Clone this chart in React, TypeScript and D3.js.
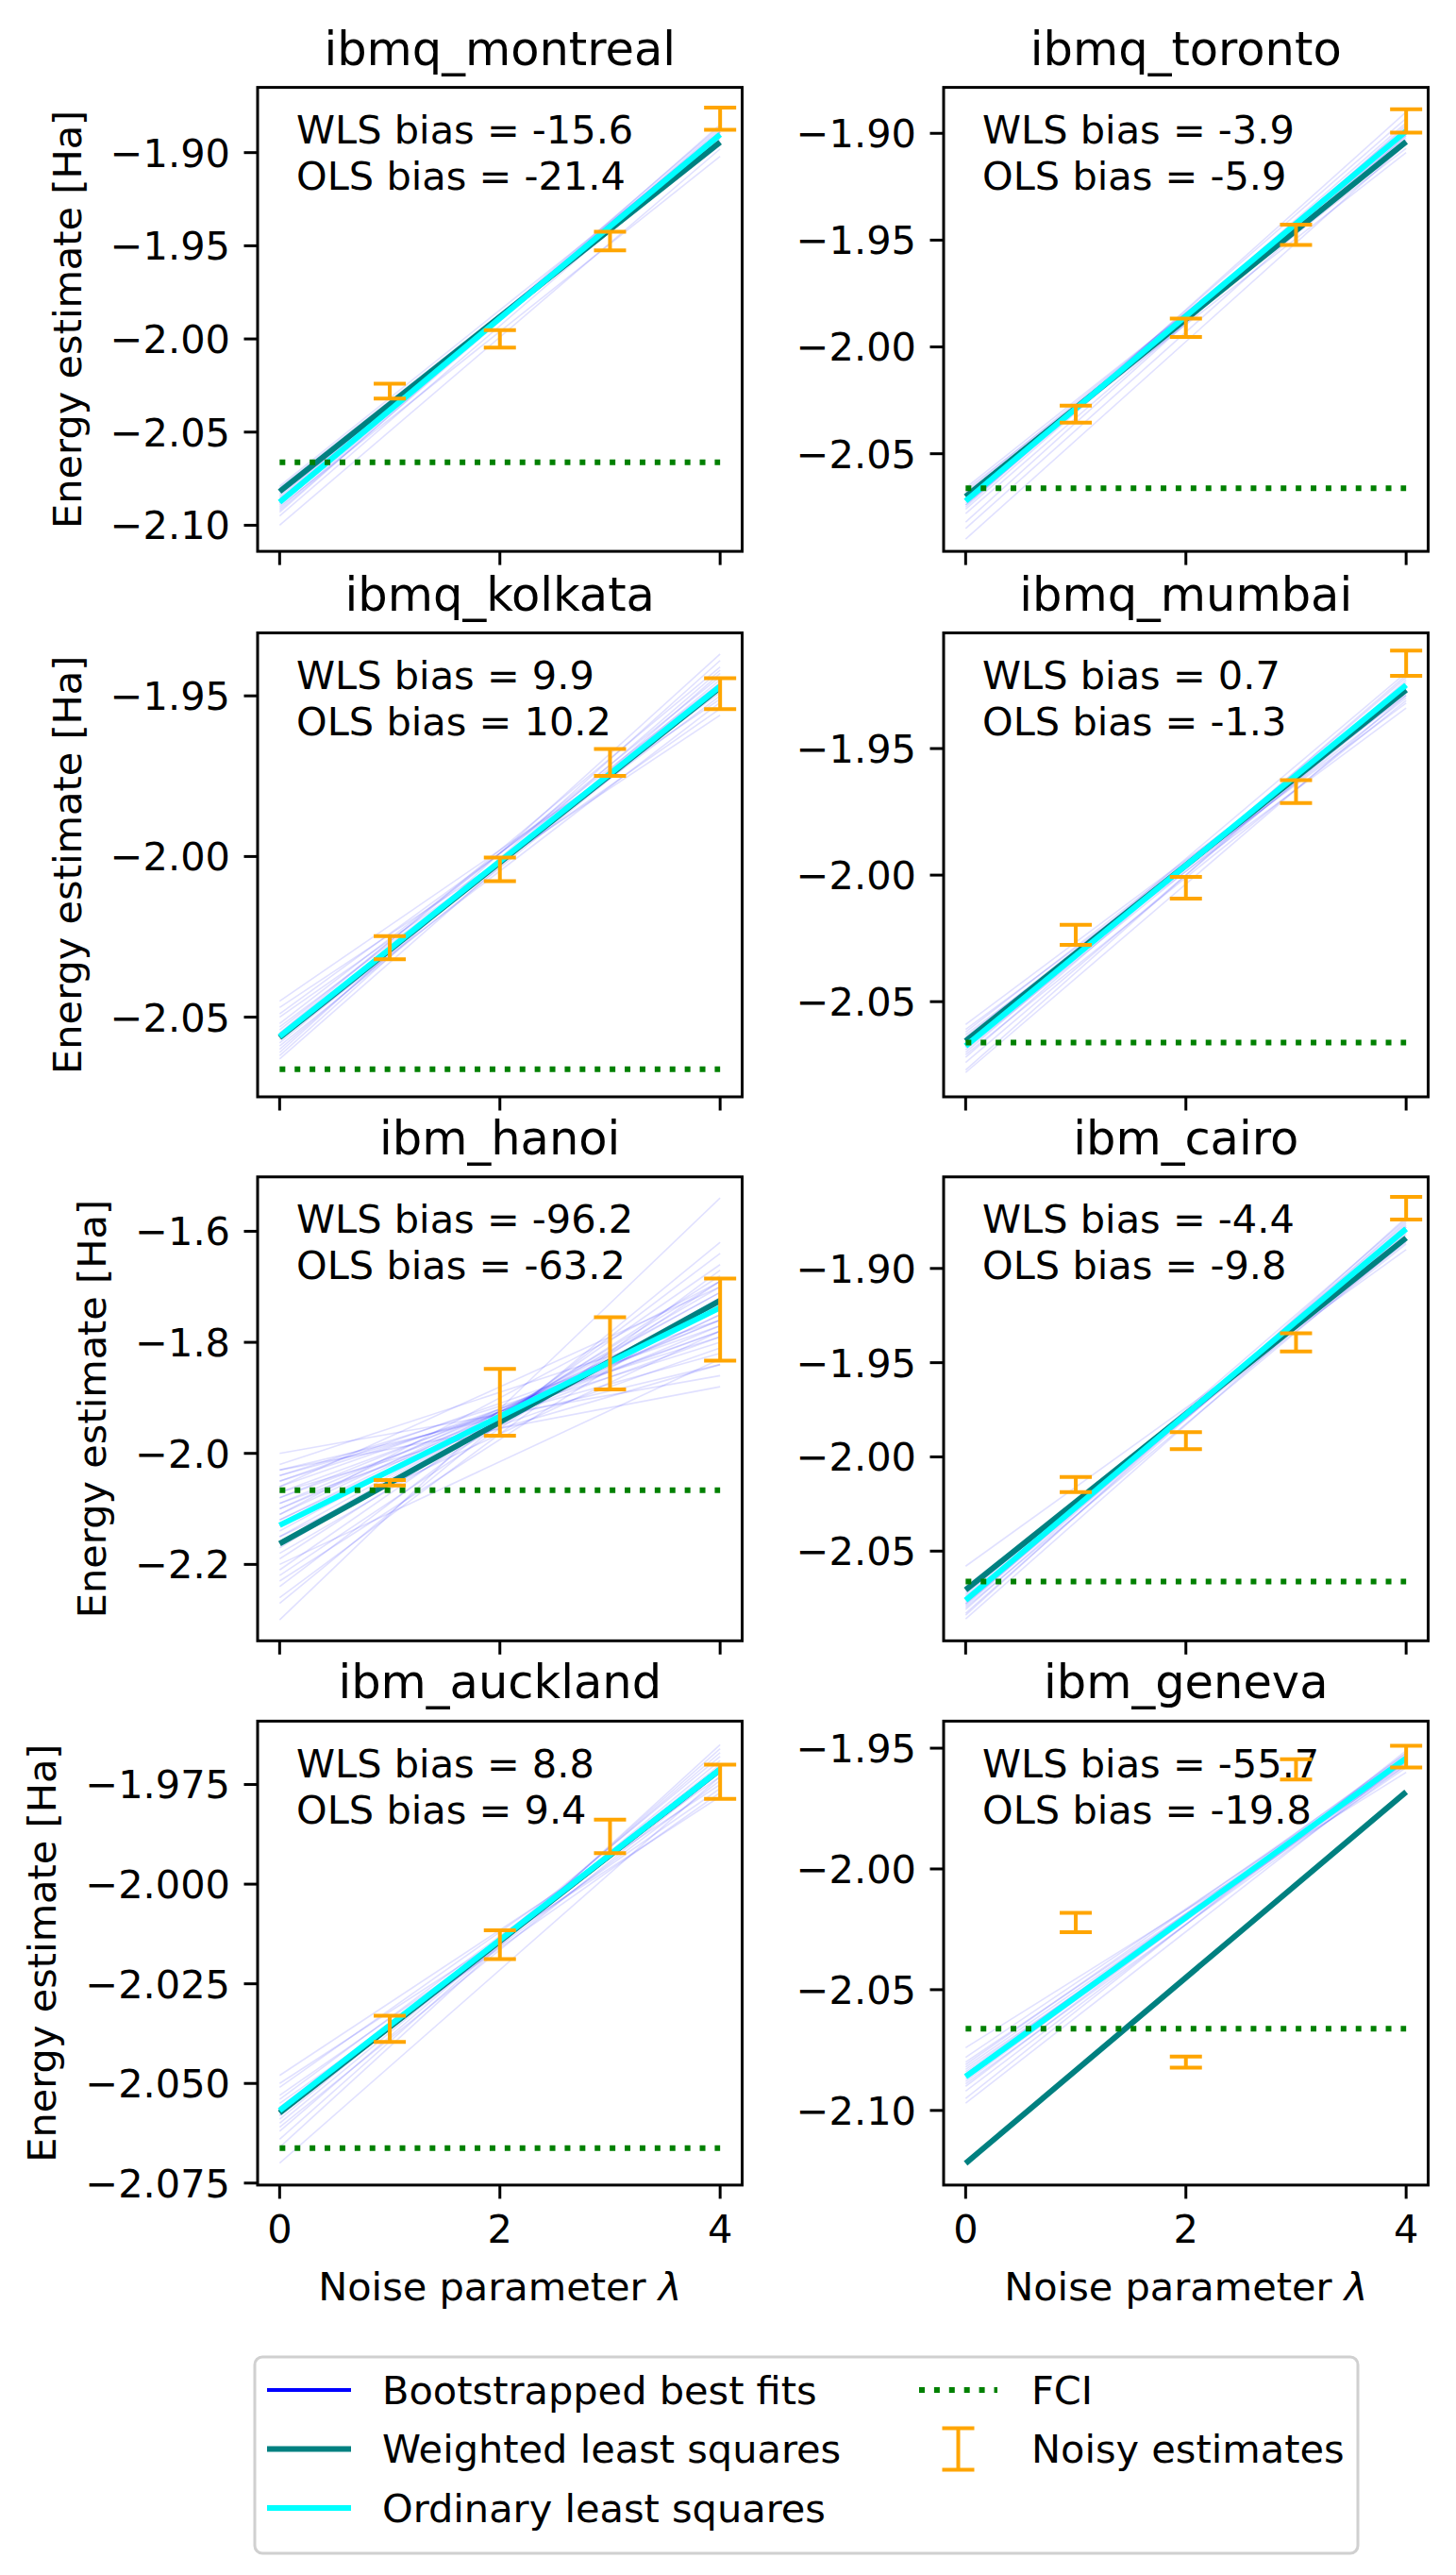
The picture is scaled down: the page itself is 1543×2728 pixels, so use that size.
import React from "react";
import * as d3 from "d3";

// ---- data ----
const devices = [
  "ibmq_montreal", "ibmq_toronto", "ibmq_kolkata", "ibmq_mumbai",
  "ibm_hanoi", "ibm_cairo", "ibm_auckland", "ibm_geneva",
];
const noiseLevels = [1, 2, 3, 4];
const xTicks = [0, 2, 4];
const fciEnergy = -2.0662;

// noisy estimates (mean, error) at lambda = 1..4
const noisyMeans = [
  [-2.028, -2.0, -1.9475, -1.8818],
  [-2.0315, -1.991, -1.9475, -1.8942],
  [-2.0284, -2.004, -1.9707, -1.9493],
  [-2.0236, -2.005, -1.967, -1.9163],
  [-2.053, -1.908, -1.82, -1.759],
  [-2.0147, -1.9914, -1.9392, -1.868],
  [-2.0363, -2.0152, -1.988, -1.9743],
  [-2.0222, -2.08, -1.9588, -1.9535],
];
const noisyErrors = [
  [0.004, 0.0047, 0.005, 0.006],
  [0.004, 0.0043, 0.0048, 0.0055],
  [0.0036, 0.0037, 0.0042, 0.0048],
  [0.004, 0.0043, 0.0045, 0.005],
  [0.005, 0.06, 0.065, 0.074],
  [0.004, 0.0045, 0.0048, 0.006],
  [0.0033, 0.0036, 0.0042, 0.0043],
  [0.004, 0.0023, 0.0042, 0.0045],
];

const wlsBias = ["-15.6", "-3.9", "9.9", "0.7", "-96.2", "-4.4", "8.8", "-55.7"];
const olsBias = ["-21.4", "-5.9", "10.2", "-1.3", "-63.2", "-9.8", "9.4", "-19.8"];

// fitted lines: [value at lambda=0, value at lambda=4]
const wlsFits = [
  [-2.0819, -1.8944], [-2.0701, -1.9039], [-2.0563, -1.9474], [-2.0655, -1.9268],
  [-2.1625, -1.7248], [-2.0706, -1.8838], [-2.0574, -1.9712], [-2.1219, -1.9681],
];
const olsFits = [
  [-2.0876, -1.8903], [-2.0721, -1.899], [-2.056, -1.947], [-2.0675, -1.9249],
  [-2.1295, -1.7375], [-2.076, -1.879], [-2.0568, -1.9712], [-2.086, -1.9542],
];

const bootFits = [
  [[-2.080, -1.893], [-2.083, -1.891], [-2.085, -1.889], [-2.087, -1.890], [-2.089, -1.888], [-2.091, -1.887], [-2.086, -1.892], [-2.084, -1.894], [-2.092, -1.889], [-2.095, -1.891], [-2.088, -1.886], [-2.082, -1.896], [-2.100, -1.898], [-2.090, -1.902], [-2.079, -1.890], [-2.093, -1.885], [-2.086, -1.889], [-2.088, -1.891]],
  [[-2.066, -1.902], [-2.068, -1.900], [-2.070, -1.898], [-2.072, -1.899], [-2.074, -1.897], [-2.076, -1.895], [-2.071, -1.903], [-2.069, -1.905], [-2.078, -1.899], [-2.082, -1.896], [-2.073, -1.893], [-2.067, -1.907], [-2.085, -1.901], [-2.090, -1.905], [-2.075, -1.890], [-2.070, -1.909], [-2.072, -1.901], [-2.074, -1.899]],
  [[-2.045, -1.951], [-2.049, -1.949], [-2.052, -1.946], [-2.054, -1.944], [-2.056, -1.947], [-2.058, -1.945], [-2.060, -1.942], [-2.062, -1.939], [-2.053, -1.950], [-2.057, -1.952], [-2.050, -1.954], [-2.059, -1.948], [-2.061, -1.937], [-2.047, -1.956], [-2.055, -1.941], [-2.063, -1.943], [-2.056, -1.946], [-2.055, -1.948]],
  [[-2.059, -1.929], [-2.062, -1.927], [-2.064, -1.926], [-2.066, -1.925], [-2.068, -1.924], [-2.070, -1.922], [-2.072, -1.921], [-2.065, -1.930], [-2.069, -1.928], [-2.074, -1.926], [-2.061, -1.932], [-2.077, -1.923], [-2.067, -1.920], [-2.063, -1.934], [-2.071, -1.931], [-2.078, -1.929], [-2.066, -1.926], [-2.068, -1.925]],
  [[-2.00, -1.86], [-2.03, -1.84], [-2.05, -1.80], [-2.07, -1.78], [-2.09, -1.76], [-2.11, -1.74], [-2.13, -1.73], [-2.15, -1.71], [-2.17, -1.69], [-2.19, -1.68], [-2.21, -1.66], [-2.24, -1.64], [-2.27, -1.62], [-2.30, -1.54], [-2.04, -1.82], [-2.08, -1.79], [-2.12, -1.75], [-2.16, -1.72], [-2.06, -1.70], [-2.20, -1.83], [-2.02, -1.76], [-2.23, -1.72],
   [-2.05, -1.77], [-2.10, -1.74], [-2.14, -1.71], [-2.08, -1.76], [-2.12, -1.73], [-2.06, -1.78], [-2.10, -1.77], [-2.13, -1.75], [-2.16, -1.70], [-2.18, -1.72], [-2.04, -1.79], [-2.09, -1.81], [-2.11, -1.69], [-2.26, -1.67], [-2.03, -1.88], [-2.07, -1.84], [-2.15, -1.78], [-2.22, -1.69]],
  [[-2.071, -1.882], [-2.073, -1.880], [-2.075, -1.879], [-2.077, -1.878], [-2.079, -1.876], [-2.081, -1.875], [-2.074, -1.884], [-2.078, -1.881], [-2.083, -1.877], [-2.086, -1.880], [-2.069, -1.886], [-2.076, -1.874], [-2.058, -1.890], [-2.080, -1.885], [-2.072, -1.887], [-2.084, -1.873], [-2.076, -1.879], [-2.078, -1.878]],
  [[-2.048, -1.975], [-2.051, -1.973], [-2.054, -1.972], [-2.056, -1.971], [-2.058, -1.970], [-2.060, -1.969], [-2.062, -1.967], [-2.064, -1.966], [-2.053, -1.976], [-2.057, -1.974], [-2.050, -1.978], [-2.061, -1.972], [-2.066, -1.965], [-2.070, -1.973], [-2.059, -1.968], [-2.055, -1.977], [-2.056, -1.972], [-2.058, -1.971]],
  [[-2.080, -1.957], [-2.082, -1.956], [-2.084, -1.955], [-2.086, -1.954], [-2.088, -1.953], [-2.090, -1.952], [-2.083, -1.958], [-2.087, -1.956], [-2.092, -1.954], [-2.074, -1.960], [-2.095, -1.951], [-2.085, -1.952], [-2.089, -1.957], [-2.078, -1.955], [-2.097, -1.955], [-2.081, -1.953], [-2.086, -1.955], [-2.085, -1.954]],
];

const yDomains = [
  [-2.114, -1.865], [-2.0957, -1.8785], [-2.0748, -1.9304], [-2.0876, -1.9043],
  [-2.3376, -1.502], [-2.0976, -1.8514], [-2.0755, -1.9591], [-2.1309, -1.9388],
];
const yTicks = [
  [-2.1, -2.05, -2.0, -1.95, -1.9],
  [-2.05, -2.0, -1.95, -1.9],
  [-2.05, -2.0, -1.95],
  [-2.05, -2.0, -1.95],
  [-2.2, -2.0, -1.8, -1.6],
  [-2.05, -2.0, -1.95, -1.9],
  [-2.075, -2.05, -2.025, -2.0, -1.975],
  [-2.1, -2.05, -2.0, -1.95],
];
const yFormats = [".2f", ".2f", ".2f", ".2f", ".1f", ".2f", ".3f", ".2f"];

const legendItems = [
  { label: "Bootstrapped best fits", kind: "boot" },
  { label: "Weighted least squares", kind: "wls" },
  { label: "Ordinary least squares", kind: "ols" },
  { label: "FCI", kind: "fci" },
  { label: "Noisy estimates", kind: "err" },
];

// ---- layout ----
const W = 1543, H = 2728;
const FONT = "'DejaVu Sans', sans-serif";
const FS = 41.5;
const TITLE_FS = 49.5;
const colLeft = [273, 1000];
const rowTop = [92.6, 670.5, 1246.8, 1823.4];
const PW = 513.5, PH = 491.5;
const TICK = 14.5, PAD = 14.5;

let ctx: any = null;
function textWidth(s: string, size: number) {
  if (!ctx) ctx = document.createElement("canvas").getContext("2d");
  ctx.font = `${size}px 'DejaVu Sans'`;
  return ctx.measureText(s).width;
}
const minus = (s: string) => s.replace("-", "\u2212");

function Panel({ i }: { i: number }) {
  const col = i % 2, row = Math.floor(i / 2);
  const left = colLeft[col], top = rowTop[row];
  const x = d3.scaleLinear().domain([-0.2, 4.2]).range([left, left + PW]);
  const y = d3.scaleLinear().domain(yDomains[i]).range([top + PH, top]);
  const fmt = d3.format(yFormats[i]);
  const line = d3.line<number[]>().x((d) => x(d[0])).y((d) => y(d[1]));
  const fitPts = (f: number[]) => [[0, f[0]], [4, f[1]]];
  const tickLabels = yTicks[i].map((t) => minus(fmt(t)));
  const maxTW = d3.max(tickLabels, (s) => textWidth(s, FS)) || 0;
  const labelX = left - TICK - PAD - maxTW - 31;
  const tx = left + 0.08 * PW;
  return (
    <g>
      <text x={left + PW / 2} y={top - 24} textAnchor="middle" fontSize={TITLE_FS}>{devices[i]}</text>
      {bootFits[i].map((f, k) => (
        <path key={k} d={line(fitPts(f)) || ""} stroke="#0000ff" strokeOpacity={0.12} strokeWidth={1.6} fill="none" />
      ))}
      <path d={line(fitPts(wlsFits[i])) || ""} stroke="#008080" strokeWidth={6} fill="none" />
      <path d={line(fitPts(olsFits[i])) || ""} stroke="#00ffff" strokeWidth={6} fill="none" />
      <path d={line([[0, fciEnergy], [4, fciEnergy]]) || ""} stroke="#008000" strokeWidth={6} strokeDasharray="6 9.9" fill="none" />
      <text x={tx} y={top + 59.5} fontSize={FS}>{`WLS bias = ${wlsBias[i]}`}</text>
      <text x={tx} y={top + 108.3} fontSize={FS}>{`OLS bias = ${olsBias[i]}`}</text>
      {noiseLevels.map((lv, k) => {
        const m = noisyMeans[i][k], e = noisyErrors[i][k];
        const cx = x(lv), y1 = y(m + e), y2 = y(m - e);
        return (
          <g key={k} stroke="#ffa500" strokeWidth={4}>
            <line x1={cx} x2={cx} y1={y1} y2={y2} />
            <line x1={cx - 17} x2={cx + 17} y1={y1} y2={y1} />
            <line x1={cx - 17} x2={cx + 17} y1={y2} y2={y2} />
          </g>
        );
      })}
      <rect x={left} y={top} width={PW} height={PH} fill="none" stroke="#000" strokeWidth={3} />
      {yTicks[i].map((t, k) => (
        <g key={k}>
          <line x1={left - TICK} x2={left} y1={y(t)} y2={y(t)} stroke="#000" strokeWidth={3} />
          <text x={left - TICK - PAD} y={y(t)} dy="0.36em" textAnchor="end" fontSize={FS}>{tickLabels[k]}</text>
        </g>
      ))}
      {xTicks.map((t) => (
        <g key={t}>
          <line x1={x(t)} x2={x(t)} y1={top + PH} y2={top + PH + TICK} stroke="#000" strokeWidth={3} />
          {row === 3 && (
            <text x={x(t)} y={top + PH + 61} textAnchor="middle" fontSize={FS}>{t}</text>
          )}
        </g>
      ))}
      {row === 3 && (
        <text x={left + PW / 2} y={top + PH + 122} textAnchor="middle" fontSize={FS}>
          Noise parameter <tspan fontStyle="italic">λ</tspan>
        </text>
      )}
      {col === 0 && (
        <text transform={`translate(${labelX},${top + PH / 2}) rotate(-90)`} textAnchor="middle" fontSize={FS}>
          Energy estimate [Ha]
        </text>
      )}
    </g>
  );
}

function Legend() {
  const bx = 270, by = 2497, bw = 1169, bh = 208;
  const rows = [2532, 2594.5, 2657];
  const cols = [{ h0: 283, h1: 372, t: 405 }, { h0: 974, h1: 1057, t: 1093 }];
  return (
    <g>
      <rect x={bx} y={by} width={bw} height={bh} rx={8} fill="#fff" stroke="#d0d0d0" strokeWidth={3} />
      {legendItems.map((it, k) => {
        const c = cols[k < 3 ? 0 : 1], cy = rows[k < 3 ? k : k - 3];
        const mid = (c.h0 + c.h1) / 2;
        let handle: any = null;
        if (it.kind === "boot") handle = <line x1={c.h0} x2={c.h1} y1={cy} y2={cy} stroke="#0000ff" strokeWidth={4} />;
        if (it.kind === "wls") handle = <line x1={c.h0} x2={c.h1} y1={cy} y2={cy} stroke="#008080" strokeWidth={6} />;
        if (it.kind === "ols") handle = <line x1={c.h0} x2={c.h1} y1={cy} y2={cy} stroke="#00ffff" strokeWidth={6} />;
        if (it.kind === "fci") handle = <line x1={c.h0} x2={c.h1} y1={cy} y2={cy} stroke="#008000" strokeWidth={6} strokeDasharray="6 9.9" />;
        if (it.kind === "err")
          handle = (
            <g stroke="#ffa500" strokeWidth={4}>
              <line x1={mid} x2={mid} y1={cy - 22} y2={cy + 22} />
              <line x1={mid - 17} x2={mid + 17} y1={cy - 22} y2={cy - 22} />
              <line x1={mid - 17} x2={mid + 17} y1={cy + 22} y2={cy + 22} />
            </g>
          );
        return (
          <g key={k}>
            {handle}
            <text x={c.t} y={cy} dy="0.36em" fontSize={FS}>{it.label}</text>
          </g>
        );
      })}
    </g>
  );
}

export default function App() {
  return (
    <div style={{ position: "absolute", left: 0, top: 0 }}>
      <svg width={W} height={H} style={{ display: "block", background: "#fff" }} fontFamily={FONT}>
        <rect width={W} height={H} fill="#fff" />
        {devices.map((_, i) => <Panel key={i} i={i} />)}
        <Legend />
      </svg>
    </div>
  );
}
